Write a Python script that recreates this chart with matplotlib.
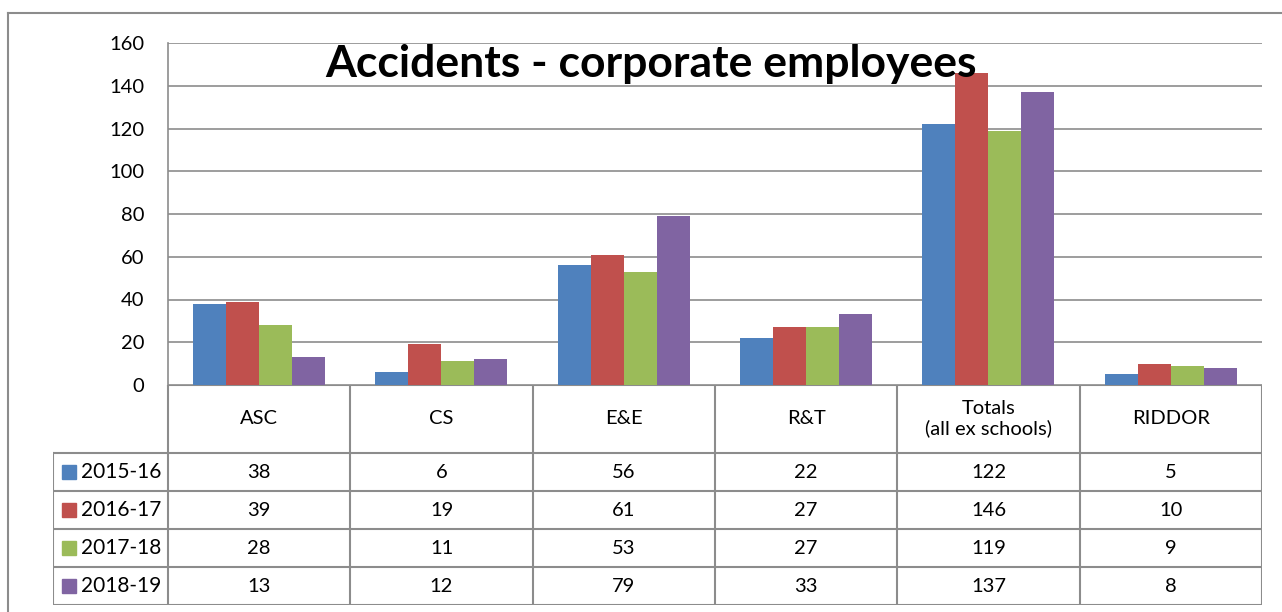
import matplotlib.pyplot as plt
from matplotlib.patches import Rectangle
from matplotlib.lines import Line2D

plt.rcParams['font.family'] = ['Lato', 'DejaVu Sans']

categories = ["ASC", "CS", "E&E", "R&T", "Totals\n(all ex schools)", "RIDDOR"]
years = ["2015-16", "2016-17", "2017-18", "2018-19"]
v1516 = [38, 6, 56, 22, 122, 5]
v1617 = [39, 19, 61, 27, 146, 10]
v1718 = [28, 11, 53, 27, 119, 9]
v1819 = [13, 12, 79, 33, 137, 8]
series = [v1516, v1617, v1718, v1819]
colors = ["#4F81BD", "#C0504D", "#9BBB59", "#8064A2"]

W, H = 1282, 612
grey = "#8c8c8c"

fig = plt.figure(figsize=(W / 100, H / 100), dpi=100)

# plot area in pixels
left, right, top, bottom = 168, 1262, 43, 385
colw = (right - left) / len(categories)

ax = fig.add_axes([left / W, 1 - bottom / H, (right - left) / W, (bottom - top) / H])
ax.set_xlim(-0.5, len(categories) - 0.5)
ax.set_ylim(0, 160)
ax.set_yticks(range(0, 161, 20))
ax.set_xticks([])
ax.tick_params(axis="y", length=0, pad=17, labelsize=14.5)
ax.yaxis.grid(True, color=grey, linewidth=1.2)
ax.set_axisbelow(True)
for s in ["top", "right", "bottom"]:
    ax.spines[s].set_visible(False)
ax.spines["left"].set_color(grey)
ax.spines["left"].set_linewidth(1.2)

bw = 33 / colw
for k, vals in enumerate(series):
    xs = [i + (k - 1.5) * bw for i in range(len(categories))]
    ax.bar(xs, vals, width=bw, color=colors[k], edgecolor="none", zorder=3)

# data table under the plot
tleft, tbottom = 53, 605
tab = fig.add_axes([tleft / W, 1 - tbottom / H, (right - tleft) / W, (tbottom - bottom) / H])
x0 = -0.5 - (left - tleft) / colw
tab.set_xlim(x0, len(categories) - 0.5)
tab.set_ylim(tbottom - bottom, 0)
tab.axis("off")

head_h, row_h = 68, 38
lw = 1.5
tab.add_line(Line2D([-0.5, 5.5], [0, 0], color=grey, lw=lw))
for r in range(len(years) + 1):
    y = head_h + r * row_h
    tab.add_line(Line2D([x0, 5.5], [y, y], color=grey, lw=lw))
tab.add_line(Line2D([x0, x0], [head_h, tbottom - bottom], color=grey, lw=lw))
for i in range(len(categories) + 1):
    xv = i - 0.5
    tab.add_line(Line2D([xv, xv], [0, tbottom - bottom], color=grey, lw=lw))

for i, c in enumerate(categories):
    tab.text(i, head_h / 2, c, ha="center", va="center", fontsize=14.5, linespacing=1.15)

sq = 14
for k, (yr, vals) in enumerate(zip(years, series)):
    yc = head_h + (k + 0.5) * row_h
    tab.add_patch(Rectangle((x0 + 9 / colw, yc - sq / 2), sq / colw, sq, color=colors[k]))
    tab.text(x0 + 28 / colw, yc, yr, ha="left", va="center", fontsize=15)
    for i, v in enumerate(vals):
        tab.text(i, yc, str(v), ha="center", va="center", fontsize=14.5)

# outer chart frame
fig.add_artist(Line2D([8 / W, 1], [1 - 13 / H, 1 - 13 / H], color=grey, lw=1.5))
fig.add_artist(Line2D([8 / W, 8 / W], [0, 1 - 13 / H], color=grey, lw=1.5))

fig.text(651 / W, 1 - 64 / H, "Accidents - corporate employees", ha="center", va="center",
         fontsize=32, fontweight="bold")

fig.savefig("out.png", dpi=100)
